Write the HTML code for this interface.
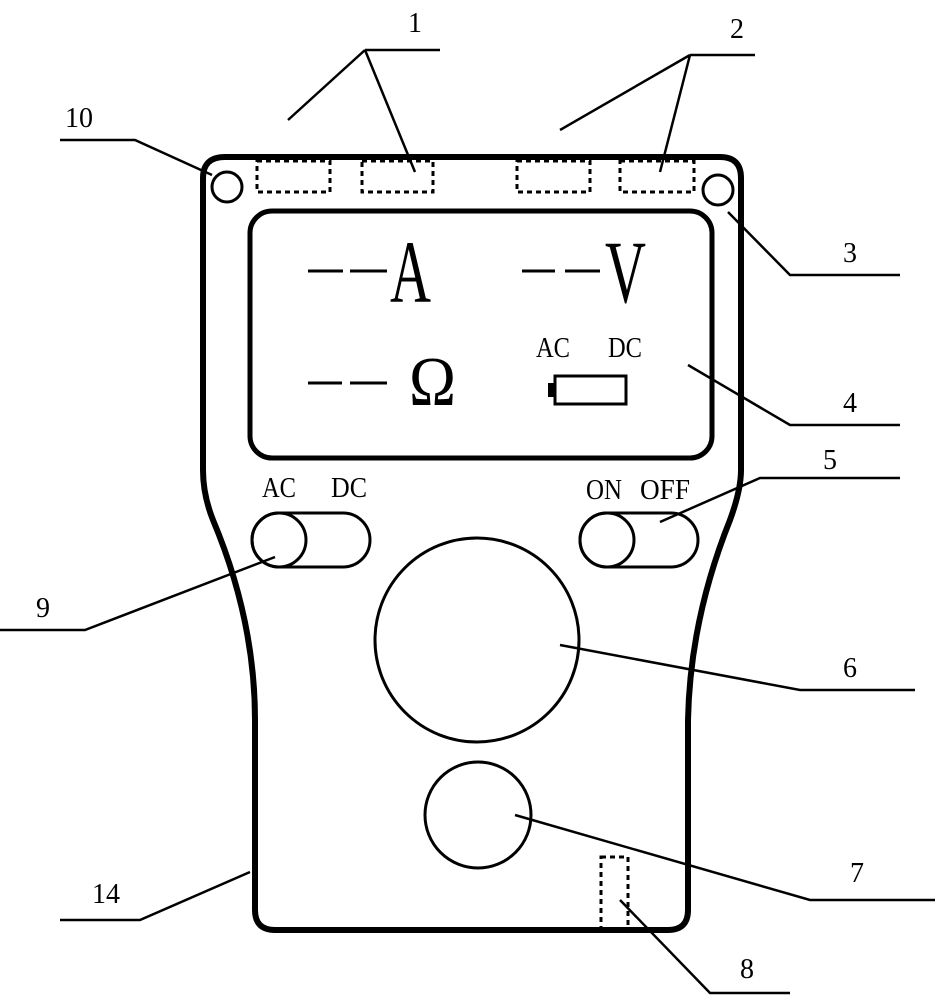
<!DOCTYPE html>
<html><head><style>body{margin:0;background:#fff}svg{display:block}</style></head><body>
<svg width="937" height="1000" viewBox="0 0 937 1000" xmlns="http://www.w3.org/2000/svg">
<g fill="none" stroke="#000">
<path d="M225,157 H720 Q741,157 741,178 V470 Q741,490 730,520 Q690,620 688,720 V910 Q688,930 668,930 H275 Q255,930 255,910 V720 Q255,620 213,520 Q203,495 203,470 V178 Q203,157 225,157 Z" stroke-width="6"/>
<rect x="250" y="211" width="462" height="247" rx="22" stroke-width="5"/>
<g stroke-width="3" stroke-dasharray="5,4">
<rect x="257" y="161" width="73" height="31"/>
<rect x="362" y="161" width="71" height="31"/>
<rect x="517" y="161" width="73" height="31"/>
<rect x="620" y="161" width="74" height="31"/>
<rect x="601" y="857" width="27" height="73"/>
</g>
<g stroke-width="3">
<circle cx="227" cy="187" r="15"/>
<circle cx="718" cy="190" r="15"/>
<rect x="252" y="513" width="118" height="54" rx="27"/>
<circle cx="279" cy="540" r="27"/>
<rect x="580" y="513" width="118" height="54" rx="27"/>
<circle cx="607" cy="540" r="27"/>
<circle cx="477" cy="640" r="102"/>
<circle cx="478" cy="815" r="53"/>
<rect x="555" y="376" width="71" height="28"/>
<rect x="548" y="383" width="6" height="14" fill="#000" stroke="none"/>
<path d="M308,271 H343 M350,271 H387 M522,271 H555 M565,271 H600 M308,383 H342 M350,383 H387"/>
</g>
<g stroke-width="2.5">
<path d="M365,50 H440 M365,50 L288,120 M365,50 L415,172"/>
<path d="M690,55 H755 M690,55 L560,130 M690,55 L660,172"/>
<path d="M60,140 H135 L212,175"/>
<path d="M900,275 H790 L728,212"/>
<path d="M900,425 H790 L688,365"/>
<path d="M900,478 H760 L660,522"/>
<path d="M0,630 H85 L275,557"/>
<path d="M915,690 H800 L560,645"/>
<path d="M935,900 H810 L515,815"/>
<path d="M60,920 H140 L250,872"/>
<path d="M790,993 H710 L620,900"/>
</g>
</g>
<g font-family="Liberation Serif, serif" fill="#000">
<g font-size="28">
<text x="408" y="32">1</text><text x="730" y="38">2</text><text x="65" y="127">10</text>
<text x="843" y="262">3</text><text x="843" y="412">4</text><text x="823" y="469">5</text>
<text x="36" y="617">9</text><text x="843" y="677">6</text><text x="850" y="882">7</text>
<text x="92" y="903">14</text><text x="740" y="978">8</text>
</g>
<text x="390" y="302" font-size="89" textLength="41" lengthAdjust="spacingAndGlyphs">A</text>
<text x="605" y="302" font-size="89" textLength="41" lengthAdjust="spacingAndGlyphs">V</text>
<text x="409" y="405" font-size="70" textLength="47" lengthAdjust="spacingAndGlyphs">Ω</text>
<g font-size="28">
<text x="536" y="357" textLength="34" lengthAdjust="spacingAndGlyphs">AC</text>
<text x="608" y="357" textLength="34" lengthAdjust="spacingAndGlyphs">DC</text>
<text x="262" y="497" textLength="34" lengthAdjust="spacingAndGlyphs">AC</text>
<text x="331" y="497" textLength="36" lengthAdjust="spacingAndGlyphs">DC</text>
<text x="586" y="499" textLength="36" lengthAdjust="spacingAndGlyphs">ON</text>
<text x="640" y="499" textLength="50" lengthAdjust="spacingAndGlyphs">OFF</text>
</g>
</g>
</svg>
</body></html>
